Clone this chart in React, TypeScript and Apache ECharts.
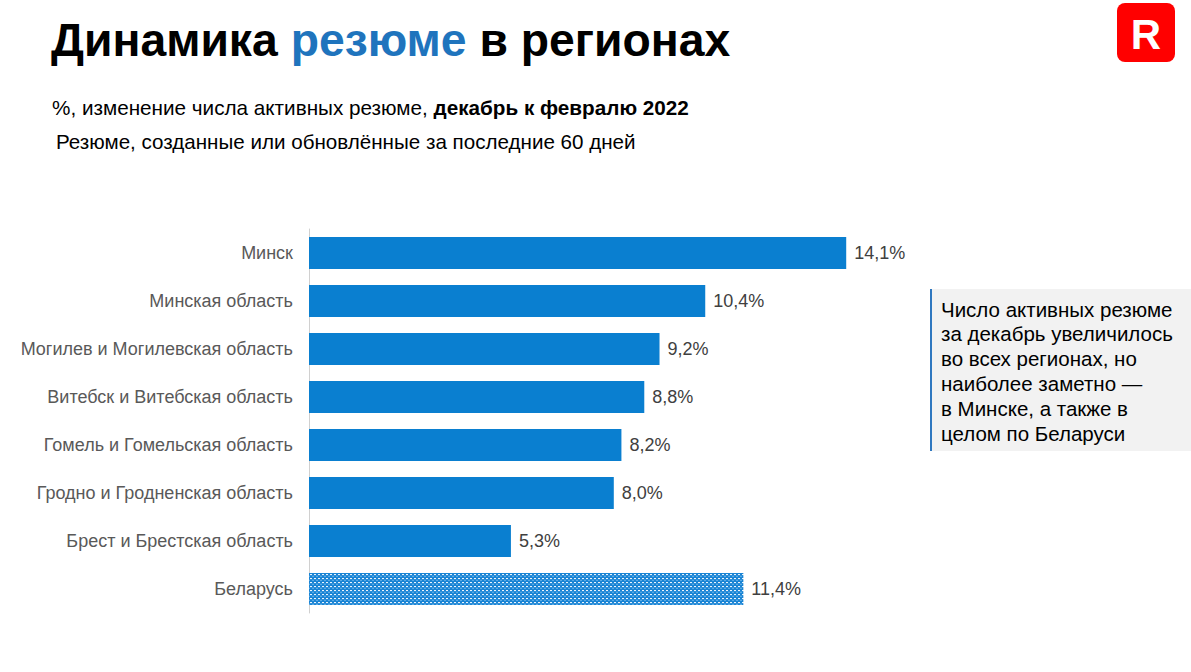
import React, { useEffect, useRef } from "react";
import * as echarts from "echarts";

const categories = [
  "Минск",
  "Минская область",
  "Могилев и Могилевская область",
  "Витебск и Витебская область",
  "Гомель и Гомельская область",
  "Гродно и Гродненская область",
  "Брест и Брестская область",
  "Беларусь",
];
const values = [14.1, 10.4, 9.2, 8.8, 8.2, 8.0, 5.3, 11.4];
const highlightIndex = 7;

const noteLines = [
  "Число активных резюме",
  "за декабрь увеличилось",
  "во всех регионах, но",
  "наиболее заметно —",
  "в Минске, а также в",
  "целом по Беларуси",
];

function makePattern(): string {
  const c = document.createElement("canvas");
  c.width = 4;
  c.height = 4;
  const ctx = c.getContext("2d")!;
  ctx.fillStyle = "#1a84d4";
  ctx.fillRect(0, 0, 4, 4);
  ctx.fillStyle = "#5aaae4";
  ctx.fillRect(0, 0, 2, 1);
  ctx.fillStyle = "#eaf4fc";
  ctx.fillRect(2, 2, 2, 1);
  ctx.fillStyle = "#2e90da";
  ctx.fillRect(0, 3, 4, 1);
  return c.toDataURL();
}

export default function App() {
  const ref = useRef<HTMLDivElement>(null);
  useEffect(() => {
    const chart = echarts.init(ref.current!, null, { renderer: "svg" });
    const pattern = makePattern();
    const font = "'Liberation Sans', Arial, sans-serif";
    chart.setOption({
      animation: false,
      textStyle: { fontFamily: font },
      title: [
        {
          left: 46,
          top: 12,
          text: "{a|Динамика }{b|резюме}{a| в регионах}",
          textStyle: {
            rich: {
              a: { fontSize: 46.3, fontWeight: "bold", color: "#000000", fontFamily: font },
              b: { fontSize: 46.3, fontWeight: "bold", color: "#1f74bd", fontFamily: font },
            },
          },
        },
        {
          left: 47,
          top: 92,
          text: "{a|%, изменение числа активных резюме, }{b|декабрь к февралю 2022}",
          textStyle: {
            rich: {
              a: { fontSize: 20.7, fontWeight: "normal", color: "#000000", fontFamily: font },
              b: { fontSize: 20.7, fontWeight: "bold", color: "#000000", fontFamily: font },
            },
          },
        },
        {
          left: 51,
          top: 126,
          text: "Резюме, созданные или обновлённые за последние 60 дней",
          textStyle: { fontSize: 20.6, fontWeight: "normal", color: "#000000", fontFamily: font },
        },
      ],
      grid: { left: 309, top: 229, width: 762, height: 384, containLabel: false },
      xAxis: {
        type: "value",
        min: 0,
        max: 20,
        show: false,
      },
      yAxis: {
        type: "category",
        data: categories,
        inverse: true,
        axisLine: { show: true, lineStyle: { color: "#d0d0d0", width: 1 } },
        axisTick: { show: false },
        axisLabel: { color: "#595959", fontSize: 18, margin: 16, fontFamily: font },
        splitLine: { show: false },
      },
      series: [
        {
          type: "bar",
          barWidth: 32,
          data: values.map((v, i) =>
            i === highlightIndex
              ? { value: v, itemStyle: { color: { image: pattern, repeat: "repeat" } } }
              : { value: v }
          ),
          itemStyle: { color: "#0a7fd0" },
          label: {
            show: true,
            position: "right",
            distance: 8,
            color: "#404040",
            fontSize: 18,
            fontFamily: font,
            formatter: (p: any) => p.value.toFixed(1).replace(".", ",") + "%",
          },
        },
      ],
      graphic: [
        { type: "rect", shape: { x: 931, y: 289, width: 260, height: 162 }, style: { fill: "#f2f2f2" } },
        { type: "rect", shape: { x: 930, y: 289, width: 2, height: 162 }, style: { fill: "#2f78c0" } },
        ...noteLines.map((t, i) => ({
          type: "text",
          x: 941,
          y: 309 + i * 24.8,
          style: {
            text: t,
            fill: "#000000",
            fontSize: 20.5,
            fontFamily: font,
            verticalAlign: "middle",
          },
        })),
        {
          type: "rect",
          shape: { x: 1117, y: 3, width: 58, height: 59, r: 8 },
          style: { fill: "#ff0000" },
        },
        {
          type: "text",
          x: 1146,
          y: 34,
          style: {
            text: "R",
            fill: "#ffffff",
            fontSize: 42,
            fontWeight: "bold",
            fontFamily: font,
            align: "center",
            verticalAlign: "middle",
          },
        },
      ],
    });
    return () => chart.dispose();
  }, []);
  return (
    <div
      ref={ref}
      style={{ position: "fixed", left: 0, top: 0, width: 1191, height: 672, background: "#ffffff" }}
    />
  );
}
